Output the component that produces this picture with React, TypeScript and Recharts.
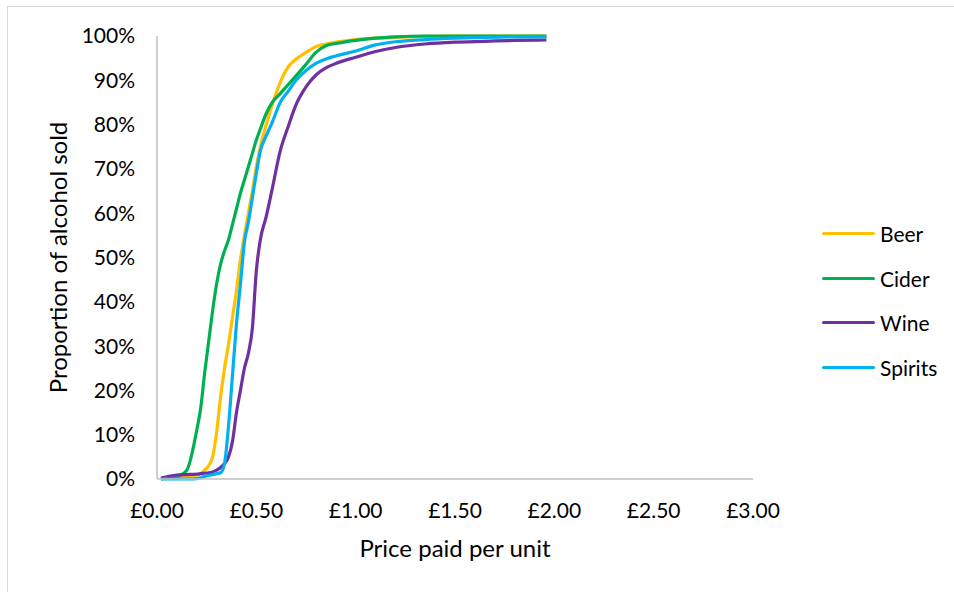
import React from "react";
import { LineChart, Line, XAxis, YAxis } from "recharts";

// price per unit (£) at which each reading was taken
const prices = [
  0.02, 0.05, 0.1, 0.15, 0.2, 0.22, 0.24, 0.26, 0.28, 0.3, 0.32, 0.34, 0.36, 0.38, 0.4,
  0.42, 0.44, 0.46, 0.48, 0.5, 0.52, 0.55, 0.58, 0.62, 0.66, 0.7, 0.75, 0.8, 0.85, 0.9,
  1.0, 1.1, 1.2, 1.35, 1.5, 1.65, 1.8, 1.96,
];

// cumulative proportion of alcohol sold (%)
const beer = [
  0, 0.2, 0.4, 0.6, 0.9, 1.2, 2, 3, 5, 10.5, 18.5, 25, 30.5, 36.5, 42.5,
  49.5, 55, 60, 65, 70.5, 75, 80, 84.5, 89.5, 93, 94.8, 96.3, 97.6, 98.2, 98.6,
  99.2, 99.5, 99.7, 99.9, 100, 100, 100, 100,
];
const cider = [
  0, 0.3, 0.6, 2, 11, 16, 24, 31, 38, 44, 48.5, 51.5, 54, 57.5, 61,
  64.5, 67.5, 70.5, 73.5, 76.5, 79, 82.5, 85, 87, 89, 91, 93.6, 96.3, 97.8, 98.3,
  99, 99.5, 99.8, 100, 100, 100, 100, 100,
];
const wine = [
  0.2, 0.5, 0.9, 1, 1.1, 1.2, 1.3, 1.4, 1.6, 2, 2.6, 3.5, 5, 8.5, 15,
  20, 25, 28.4, 34, 47, 54, 59.3, 65.5, 74, 79.5, 84.5, 88.5, 91.2, 92.8, 93.8,
  95.2, 96.5, 97.4, 98.2, 98.6, 98.8, 99, 99.1,
];
const spirits = [
  0, 0, 0, 0, 0.1, 0.3, 0.6, 0.8, 1, 1.2, 1.4, 3.5, 12, 23.5, 35,
  44, 53.5, 58, 63.5, 69, 74, 77.5, 80.5, 85, 87.5, 90, 92.2, 93.8, 94.8, 95.5,
  96.6, 98, 98.7, 99.2, 99.5, 99.7, 99.8, 99.8,
];

const xTicks = [0, 0.5, 1, 1.5, 2, 2.5, 3];
const yTicks = [0, 10, 20, 30, 40, 50, 60, 70, 80, 90, 100];

const series = [
  { key: "Beer", values: beer, color: "#FFC000" },
  { key: "Cider", values: cider, color: "#00B050" },
  { key: "Wine", values: wine, color: "#7030A0" },
  { key: "Spirits", values: spirits, color: "#00B0F0" },
];

const data = prices.map((p, i) => {
  const row: Record<string, number> = { price: p };
  series.forEach((s) => (row[s.key] = s.values[i]));
  return row;
});

const FONT = "Lato, 'Open Sans', sans-serif";
const axisColor = "#bfbfbf";

export default function App() {
  return (
    <div
      style={{
        position: "absolute",
        left: 7,
        top: 6,
        width: 960,
        height: 600,
        borderLeft: "1px solid #d9d9d9",
        borderTop: "1px solid #d9d9d9",
        background: "#fff",
      }}
    >
      <LineChart
        width={947}
        height={586}
        data={data}
        margin={{ top: 29, right: 202, bottom: 54, left: 0 }}
        style={{ fontFamily: FONT }}
      >
        <XAxis
          dataKey="price"
          type="number"
          domain={[0, 3]}
          ticks={xTicks}
          tickFormatter={(v: number) => `£${v.toFixed(2)}`}
          tick={{ fill: "#000", fontSize: 21, fontFamily: FONT }}
          tickLine={false}
          tickMargin={18}
          axisLine={{ stroke: axisColor, strokeWidth: 1.5 }}
          height={60}
          label={{
            value: "Price paid per unit",
            position: "insideBottom",
            offset: -18,
            fill: "#000",
            fontSize: 24,
            fontFamily: FONT,
          }}
        />
        <YAxis
          type="number"
          domain={[0, 100]}
          ticks={yTicks}
          tickFormatter={(v: number) => `${v}%`}
          tick={{ fill: "#000", fontSize: 21, fontFamily: FONT }}
          tickLine={false}
          tickMargin={16}
          axisLine={{ stroke: axisColor, strokeWidth: 1.5 }}
          width={149}
          label={{
            value: "Proportion of alcohol sold",
            angle: -90,
            position: "insideLeft",
            offset: 50,
            style: { textAnchor: "middle" },
            fill: "#000",
            fontSize: 24,
            fontFamily: FONT,
          }}
        />
        {series.map((s) => (
          <Line
            key={s.key}
            dataKey={s.key}
            type="monotone"
            stroke={s.color}
            strokeWidth={3.2}
            dot={false}
            isAnimationActive={false}
          />
        ))}
      </LineChart>
      <div
        style={{
          position: "absolute",
          left: 814,
          top: 204,
          fontFamily: FONT,
          fontSize: 21,
          color: "#000",
        }}
      >
        {series.map((s) => (
          <div key={s.key} style={{ display: "flex", alignItems: "center", height: 44.7 }}>
            <div style={{ width: 53, height: 3, background: s.color, borderRadius: 2, marginRight: 5 }} />
            <span>{s.key}</span>
          </div>
        ))}
      </div>
    </div>
  );
}
